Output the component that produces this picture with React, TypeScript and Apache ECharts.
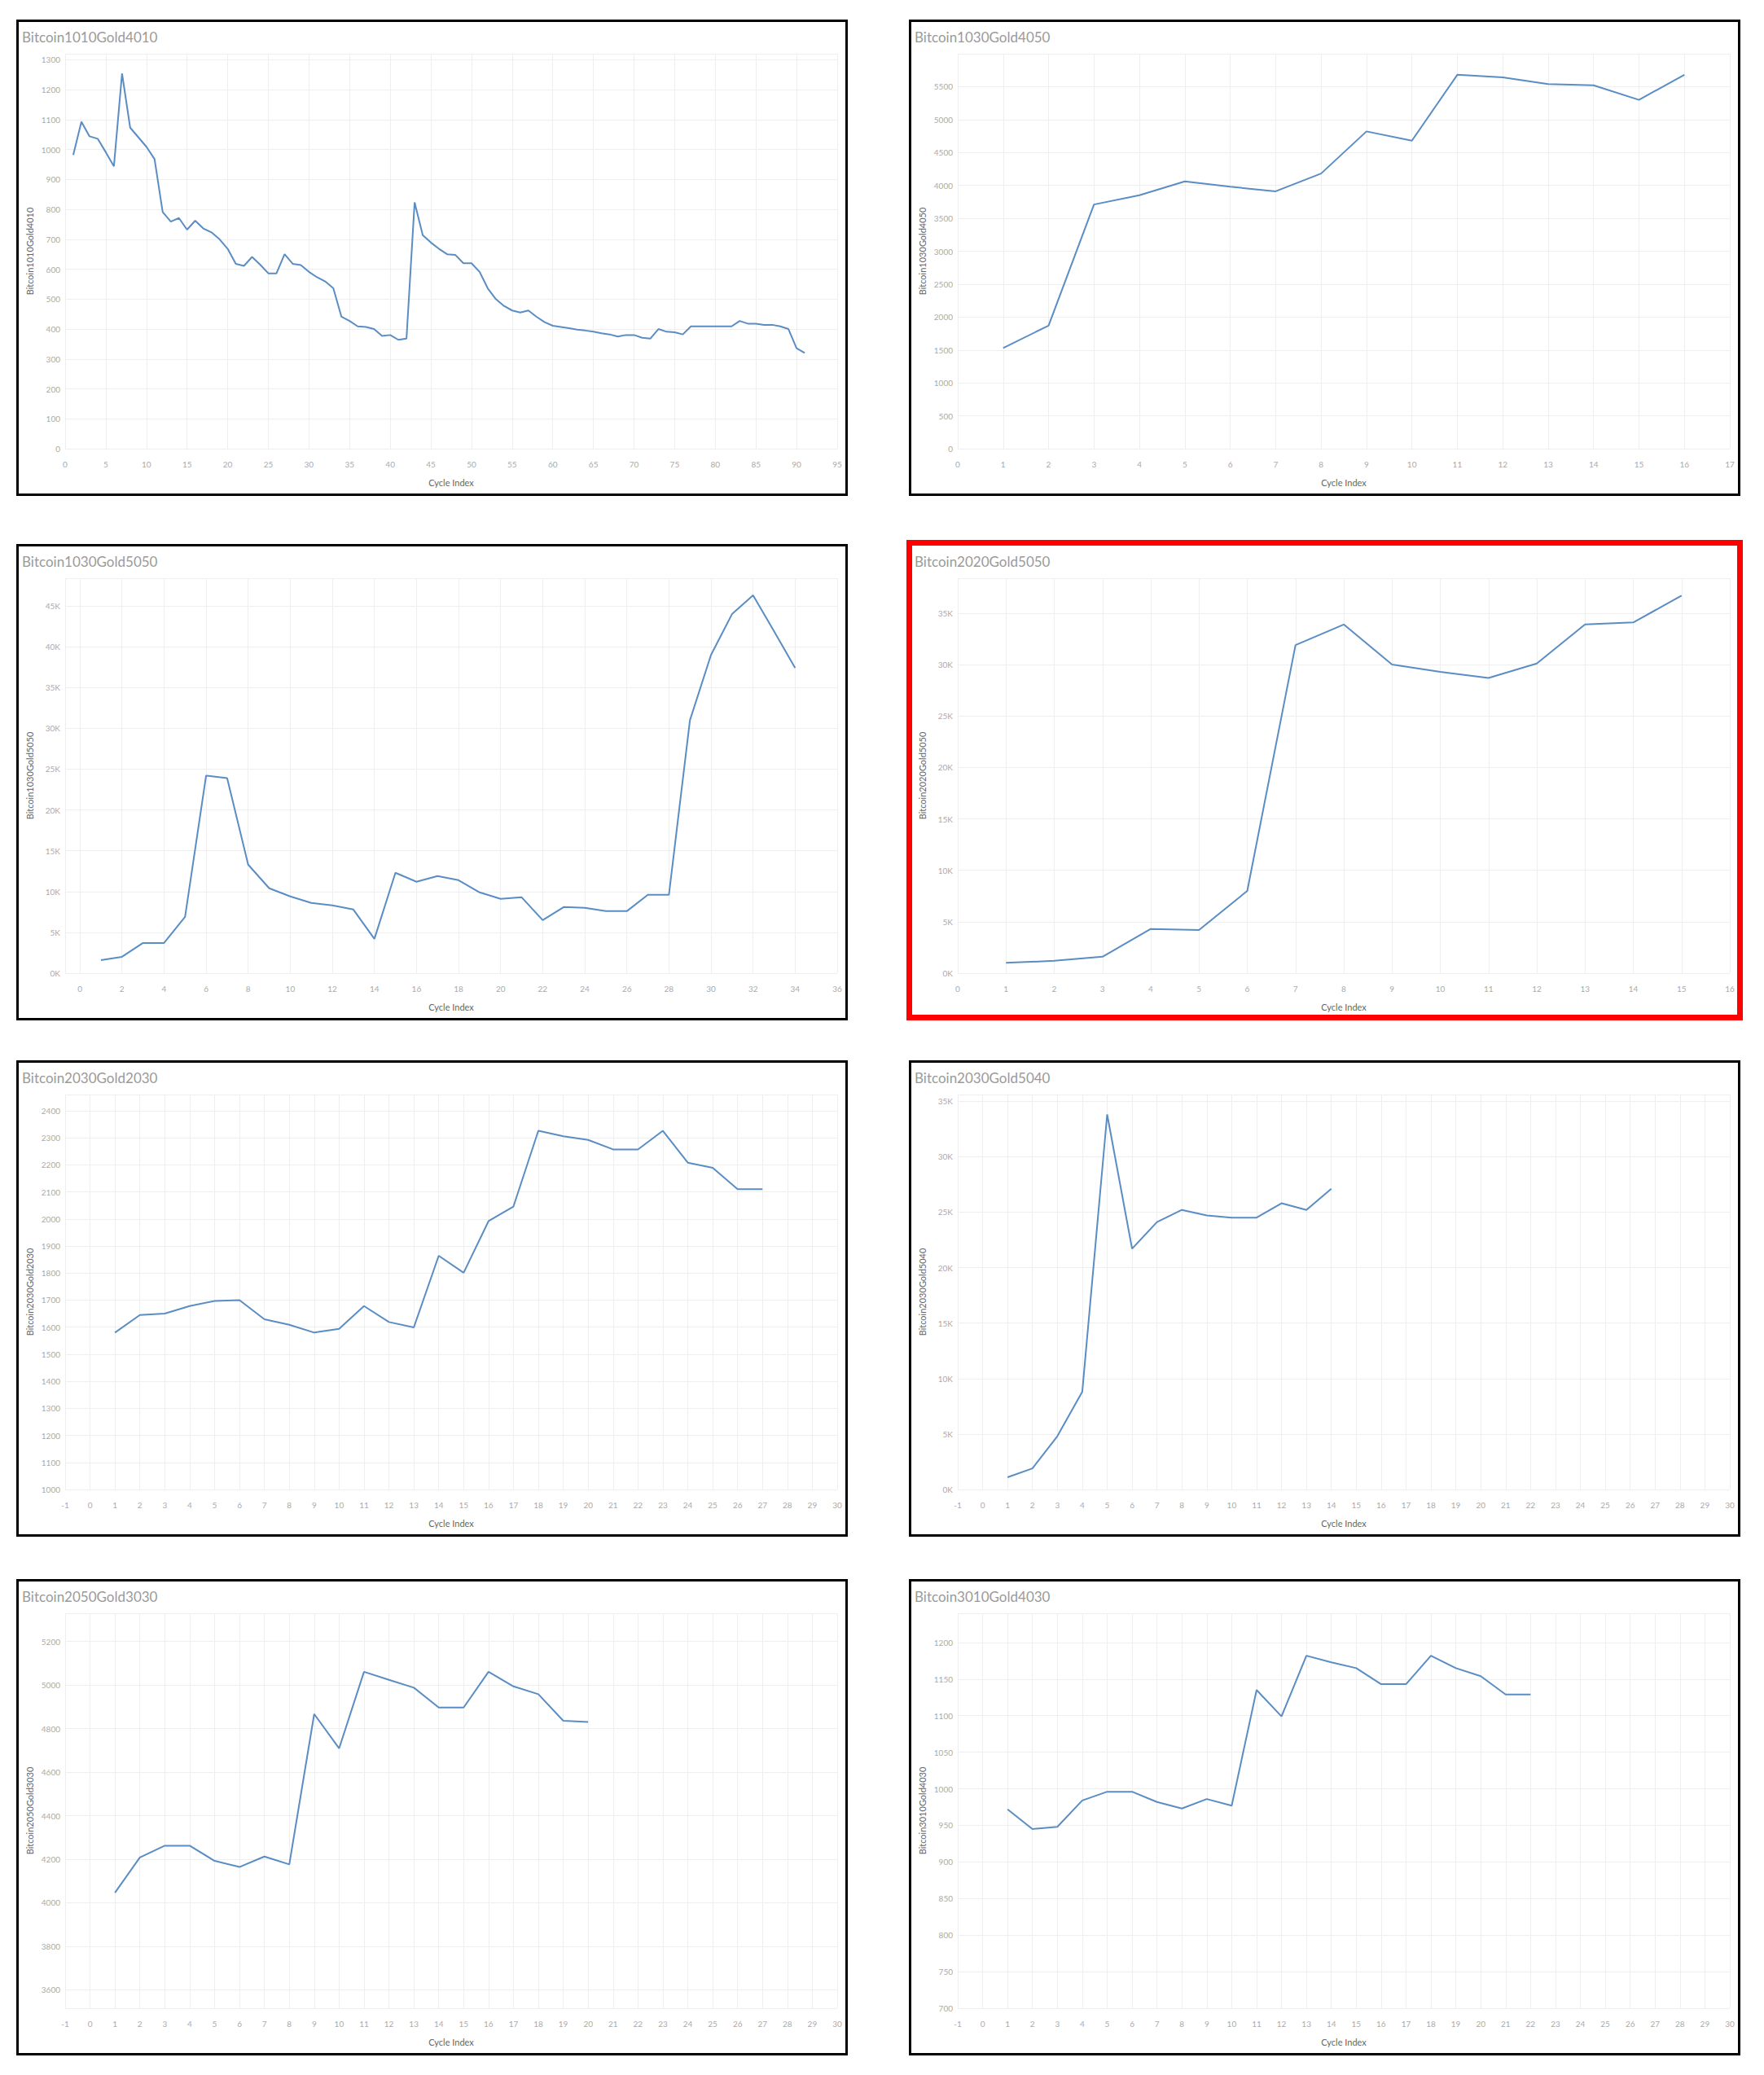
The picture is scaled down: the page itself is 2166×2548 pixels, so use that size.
import React, { useEffect, useRef } from "react";
import * as echarts from "echarts";

// ---------- data ----------
const titles = [
  "Bitcoin1010Gold4010",
  "Bitcoin1030Gold4050",
  "Bitcoin1030Gold5050",
  "Bitcoin2020Gold5050",
  "Bitcoin2030Gold2030",
  "Bitcoin2030Gold5040",
  "Bitcoin2050Gold3030",
  "Bitcoin3010Gold4030",
];

const p1Values = [
  982, 1093, 1044, 1036, 991, 944, 1254, 1073, 1041, 1009,
  968, 791, 759, 771, 732, 762, 736, 723, 700, 668,
  618, 611, 641, 615, 586, 586, 650, 618, 614, 591,
  573, 559, 536, 441, 427, 409, 407, 400, 377, 380,
  364, 368, 823, 714, 689, 668, 650, 648, 620, 620,
  591, 536, 500, 477, 462, 455, 462, 441, 423, 411,
  407, 403, 398, 395, 391, 386, 382, 375, 380, 380,
  371, 368, 400, 391, 389, 382, 409, 409, 409, 409,
  409, 409, 427, 418, 418, 414, 414, 409, 400, 336,
  320,
];
const p2Values = [1530, 1870, 3710, 3850, 4060, 3980, 3910, 4180, 4820, 4680, 5680, 5640, 5540, 5520, 5300, 5680];
const p3Values = [
  1600, 2000, 3700, 3700, 6900, 24200, 23900, 13300, 10400, 9400,
  8600, 8300, 7800, 4200, 12300, 11200, 11900, 11400, 9900, 9100,
  9300, 6500, 8100, 8000, 7600, 7600, 9600, 9600, 31000, 39000,
  44000, 46300, 41900, 37400,
];
const p4Values = [1000, 1200, 1600, 4300, 4200, 8000, 31900, 33900, 30000, 29300, 28700, 30100, 33900, 34100, 36700];
const p5Values = [
  1580, 1645, 1650, 1678, 1697, 1700, 1629, 1609, 1580, 1594,
  1678, 1619, 1599, 1864, 1801, 1992, 2046, 2326, 2306, 2292,
  2257, 2257, 2326, 2208, 2189, 2110, 2110,
];
const p6Values = [1100, 1900, 4800, 8800, 33800, 21700, 24100, 25200, 24700, 24500, 24500, 25800, 25200, 27100];
const p7Values = [
  4046, 4208, 4262, 4262, 4192, 4164, 4212, 4176, 4867, 4709,
  5061, 5024, 4988, 4897, 4897, 5061, 4994, 4958, 4836, 4830,
];
const p8Values = [
  972, 945, 948, 984, 996, 996, 982, 973, 986, 977,
  1135, 1099, 1182, 1173, 1165, 1143, 1143, 1182, 1165, 1154,
  1129, 1129,
];
const allValues = [p1Values, p2Values, p3Values, p4Values, p5Values, p6Values, p7Values, p8Values];

// axis ranges
const xMin = [0, 0, -0.7, 0, -1, -1, -1, -1];
const xMax = [95, 17, 36, 16, 30, 30, 30, 30];
const xStep = [5, 1, 2, 1, 1, 1, 1, 1];
const yMin = [0, 0, 0, 0, 1000, 0, 3515, 700];
const yMax = [1320, 6000, 48400, 38400, 2460, 35600, 5330, 1240];
const yStep = [100, 500, 5000, 5000, 100, 5000, 200, 50];
const yUnitK = [false, false, true, true, false, true, false, false];

// ---------- layout ----------
const OFF = 8;
const W = 2150;
const H = 2532;
const colX = [20, 1116];
const rowY = [24, 668, 1302, 1939];
const PW = 1020;
const PH = 585;
const FONT = "Lato, 'Open Sans', sans-serif";
const LINE = "#5a8dc3";

function buildOption() {
  const grid: any[] = [];
  const xAxis: any[] = [];
  const yAxis: any[] = [];
  const series: any[] = [];
  const graphic: any[] = [];

  for (let i = 0; i < 8; i++) {
    const c = i % 2;
    const r = Math.floor(i / 2);
    const px = colX[c] - OFF;
    const py = rowY[r] - OFF;

    grid.push({ left: px + 60, top: py + 42, width: PW - 72, height: 485 });

    const xAligned = Math.abs(xMin[i] / xStep[i] - Math.round(xMin[i] / xStep[i])) < 1e-9;
    const xa: any = {
      type: "value",
      gridIndex: i,
      min: xMin[i],
      max: xMax[i],
      name: "Cycle Index",
      nameLocation: "middle",
      nameGap: 36,
      nameTextStyle: { fontSize: 11, color: "#666", fontFamily: FONT },
      axisLine: { show: false },
      axisTick: { show: false },
      axisLabel: {
        fontSize: 10,
        color: "#aaa",
        fontFamily: FONT,
        margin: 14,
        showMinLabel: xAligned,
        showMaxLabel: true,
      },
      splitLine: { show: true, lineStyle: { color: "#efefef", width: 1 } },
    };
    if (xAligned) xa.interval = xStep[i];
    else xa.splitNumber = Math.round((xMax[i] - xMin[i]) / xStep[i]);
    xAxis.push(xa);

    const yAligned = Math.abs(yMin[i] / yStep[i] - Math.round(yMin[i] / yStep[i])) < 1e-9;
    const k = yUnitK[i];
    const ya: any = {
      type: "value",
      gridIndex: i,
      min: yMin[i],
      max: yMax[i],
      name: titles[i],
      nameLocation: "middle",
      nameGap: 38,
      nameRotate: 90,
      nameTextStyle: { fontSize: 11, color: "#666", fontFamily: FONT },
      axisLine: { show: false },
      axisTick: { show: false },
      axisLabel: {
        fontSize: 10,
        color: "#aaa",
        fontFamily: FONT,
        margin: 6,
        showMinLabel: yAligned,
        showMaxLabel: false,
        formatter: (v: number) => (k ? Math.round(v / 1000) + "K" : String(Math.round(v))),
      },
      splitLine: { show: true, lineStyle: { color: "#efefef", width: 1 } },
    };
    if (yAligned) ya.interval = yStep[i];
    else ya.splitNumber = Math.round((yMax[i] - yMin[i]) / yStep[i]);
    yAxis.push(ya);

    series.push({
      type: "line",
      xAxisIndex: i,
      yAxisIndex: i,
      showSymbol: false,
      symbol: "none",
      lineStyle: { color: LINE, width: 2 },
      data: allValues[i].map((v, j) => [j + 1, v]),
    });

    graphic.push({
      type: "text",
      x: px + 7,
      y: py + 13,
      style: { text: titles[i], fontSize: 17, fill: "#9a9a9a", fontFamily: FONT },
    });

    if (i === 3) {
      graphic.push({
        type: "rect",
        shape: { x: 1113 - OFF + 3.5, y: 663 - OFF + 3.5, width: 1027 - 7, height: 590 - 7 },
        style: { fill: "none", stroke: "#ff0000", lineWidth: 7 },
      });
    } else {
      graphic.push({
        type: "rect",
        shape: { x: px + 1.5, y: py + 1.5, width: PW - 3 + 1, height: PH - 3 },
        style: { fill: "none", stroke: "#000", lineWidth: 3 },
      });
    }
  }

  return {
    animation: false,
    backgroundColor: "#fff",
    grid,
    xAxis,
    yAxis,
    series,
    graphic,
  };
}

export default function App() {
  const ref = useRef<HTMLDivElement>(null);
  useEffect(() => {
    if (!ref.current) return;
    const chart = echarts.init(ref.current, null, { renderer: "svg" });
    chart.setOption(buildOption() as any);
    return () => chart.dispose();
  }, []);
  return <div ref={ref} style={{ width: W, height: H }} />;
}
